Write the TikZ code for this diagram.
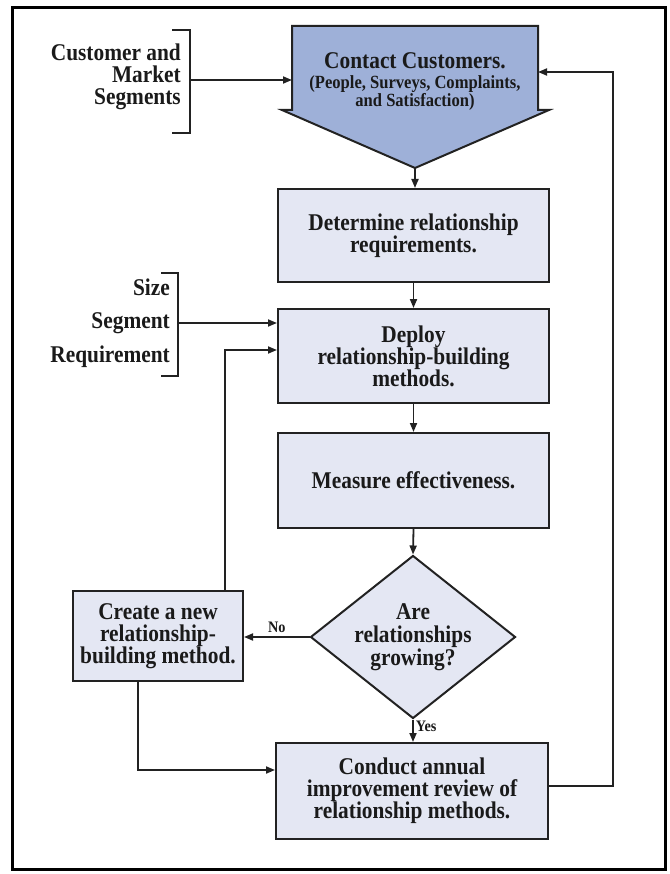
\documentclass[tikz,border=0pt]{standalone}
\usepackage{fontspec}
\usetikzlibrary{arrows.meta,shapes.geometric}
\newfontfamily\flowserif[FakeStretch=0.89]{Liberation Serif}
\newcommand{\boxfont}{\flowserif\bfseries\fontsize{24}{22}\selectfont}
\newcommand{\subfont}{\flowserif\bfseries\fontsize{18.6}{17}\selectfont}
\newcommand{\tagfont}{\flowserif\bfseries\fontsize{16}{16}\selectfont}
\definecolor{linec}{RGB}{34,34,34}
\definecolor{textc}{RGB}{26,26,26}
\definecolor{boxfill}{RGB}{228,231,243}
\definecolor{headfill}{RGB}{158,176,216}
\begin{document}
\begin{tikzpicture}[x=1pt,y=-1pt,
  box/.style={draw=linec, fill=boxfill, line width=2pt, minimum width=271pt,
    minimum height=93pt, align=center, font=\boxfont, text=textc, inner sep=0pt},
  flow/.style={line width=1.8pt, draw=linec, -{Triangle[length=9pt,width=7pt]}},
  brk/.style={line width=2.2pt, draw=linec},
  side/.style={align=right, font=\boxfont, text=textc, inner sep=0pt, anchor=east},
  tag/.style={font=\tagfont, text=textc, inner sep=2pt}]
\useasboundingbox (0,0) rectangle (669,874);
% outer frame
\draw[line width=3pt, black] (12.5,8) rectangle (665.5,869);

% top block: pentagon-shaped arrow
\draw[fill=headfill, draw=linec, line width=2pt, line join=miter]
  (292,26) -- (538,26) -- (538,110) -- (549,110) -- (415,168) -- (282,110) -- (292,110) -- cycle;
\node (contact) at (415,61) [font=\boxfont, text=textc, inner sep=0pt] {Contact Customers.};
\node (contactsub) at (415,93) [align=center, font=\subfont, text=textc, inner sep=0pt]
  {(People, Surveys, Complaints,\\and Satisfaction)};
\coordinate (ccL) at (292,80);
\coordinate (ccR) at (538,72);
\coordinate (cctip) at (415,168);

% process boxes
\node[box] (det) at (413.5,235.5) {Determine relationship\\requirements.};
\node[box, minimum height=94pt] (dep) at (413.5,356) {Deploy\\relationship-building\\methods.};
\node[box, minimum height=95pt] (mea) at (413.5,480.5) {Measure effectiveness.};
\node[draw=linec, fill=boxfill, line width=2pt, shape=diamond, aspect=1.26,
  minimum width=205pt, minimum height=163pt, inner sep=0pt, align=center,
  font=\flowserif\bfseries\fontsize{24}{23}\selectfont, text=textc]
  (dia) at (413,637) {Are\\relationships\\growing?};
\node[box, minimum width=170pt, minimum height=90pt] (create) at (158,636)
  {Create a new\\relationship-\\building method.};
\node[box, minimum width=272pt, minimum height=96pt] (conduct) at (412,791)
  {Conduct annual\\improvement review of\\relationship methods.};

% side inputs
\node[side] (market) at (181,77) {Customer and\\Market\\Segments};
\draw[brk] (172,30) -- (190,30) -- (190,133) -- (172,133);
\coordinate (b1) at (190,80);
\draw[flow] (b1) -- (ccL);

\node[side, font=\flowserif\bfseries\fontsize{24}{33.5}\selectfont] (sizes) at (170,323)
  {Size\\Segment\\Requirement};
\draw[brk] (161,273) -- (178,273) -- (178,376) -- (161,376);
\coordinate (b2) at (178,323);
\draw[flow] (b2) -- (b2 -| dep.west);

% main flow
\draw[flow] (cctip) -- (cctip |- det.north);
\draw[flow] (det.south) -- (dep.north);
\draw[flow] (dep.south) -- (mea.north);
\draw[flow] (mea.south) -- (dia.north);
\draw[flow] (dia.west) -- (dia.west -| create.east)
  node[midway, above, tag, yshift=1pt] (no) {No};
\draw[flow] (dia.south) -- (dia.south |- conduct.north)
  node[pos=0.3, right, tag] (yes) {Yes};

% loops
\coordinate (up) at (225,350);
\draw[flow] (create.north -| up) |- (dep.west |- up);
\coordinate (dn) at (138,770);
\draw[flow] (create.south -| dn) |- (conduct.west |- dn);
\coordinate (fb) at (613,786);
\draw[flow] (conduct.east |- fb) -- (fb) |- (ccR);
\end{tikzpicture}
\end{document}
